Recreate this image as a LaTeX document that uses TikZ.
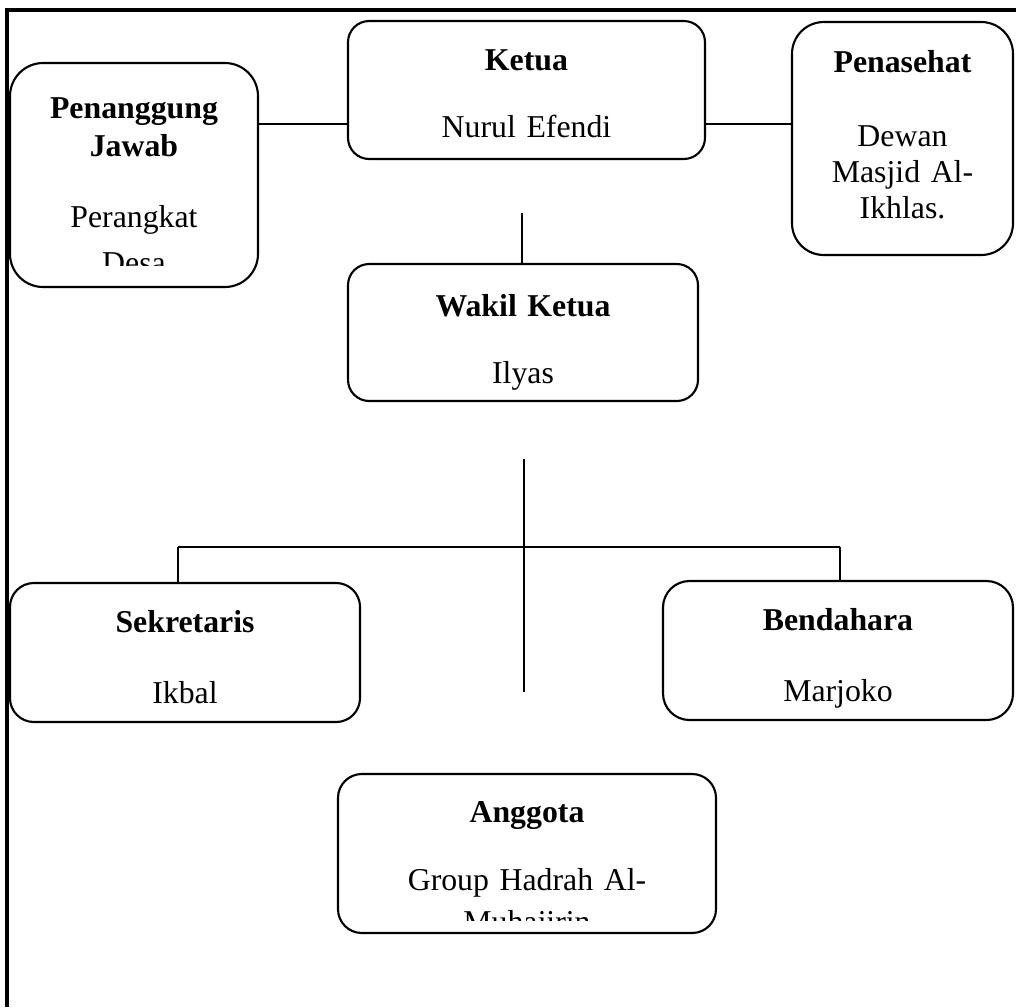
\documentclass[tikz,border=0pt]{standalone}
\usepackage{fontspec}
\setmainfont{Liberation Serif}
\newcommand{\px}{0.3774pt}
\tikzset{
  kotak/.style = {draw, line width=0.8pt, inner sep=0pt, outer sep=0pt, rounded corners=8pt},
  jabatan/.style = {anchor=base, text width=8cm, align=center, font=\fontsize{12}{14.4}\selectfont\bfseries},
  nama/.style = {anchor=base, text width=8cm, align=center, font=\fontsize{12}{14.4}\selectfont},
  garis/.style = {line width=0.8pt},
  bingkai/.style = {line width=1.2pt}
}
\begin{document}
\begin{tikzpicture}[x=\px, y=-\px]
		\useasboundingbox (0,0) rectangle (1016,1007);
		%Bingkai
		\draw[bingkai] (1016,10) -- (7,10) -- (7,1007);
		%Kotak
		\node[kotak, minimum width=357*\px, minimum height=138*\px] (ketua) at (526.5,90) {};
		\node[kotak, rounded corners=12.5pt, minimum width=248*\px, minimum height=224*\px] (pj) at (134,175) {};
		\node[kotak, rounded corners=12pt, minimum width=221*\px, minimum height=233*\px] (penasehat) at (902.5,138.5) {};
		\node[kotak, minimum width=350*\px, minimum height=137*\px] (wakil) at (523,332.5) {};
		\node[kotak, rounded corners=9pt, minimum width=350*\px, minimum height=139*\px] (sekretaris) at (185,652.5) {};
		\node[kotak, rounded corners=10pt, minimum width=350*\px, minimum height=139*\px] (bendahara) at (838,650.5) {};
		\node[kotak, rounded corners=9pt, minimum width=378*\px, minimum height=159*\px] (anggota) at (527,853.5) {};
		%Teks
		\node[jabatan] (ketua-j) at (526.5,70) {Ketua};
		\node[nama] (ketua-n) at (526.5,137) {Nurul Efendi};
		\node[jabatan] (pj-j) at (134,118) {Penanggung\\Jawab};
		\begin{scope}
			\clip (10,63) rectangle (258,265);
			\node[nama] (pj-n) at (134,227) {Perangkat\\[3pt]Desa};
		\end{scope}
		\node[jabatan] (penasehat-j) at (902.5,72) {Penasehat};
		\node[nama] (penasehat-n) at (902.5,146) {Dewan\\[-0.8pt]Masjid Al-\\[-0.8pt]Ikhlas.};
		\node[jabatan] (wakil-j) at (523,316) {Wakil Ketua};
		\node[nama] (wakil-n) at (523,383) {Ilyas};
		\node[jabatan] (sekretaris-j) at (185,632) {Sekretaris};
		\node[nama] (sekretaris-n) at (185,703) {Ikbal};
		\node[jabatan] (bendahara-j) at (838,630) {Bendahara};
		\node[nama] (bendahara-n) at (838,701) {Marjoko};
		\node[jabatan] (anggota-j) at (527,822) {Anggota};
		\begin{scope}
			\clip (338,774) rectangle (716,920);
			\node[nama] (anggota-n) at (527,890) {Group Hadrah Al-\\[1.5pt]Muhajirin};
		\end{scope}
		%Garis
		\draw[garis] ([yshift=-34*\px]ketua.west) -- ([yshift=-34*\px]ketua.west -| pj.east);	% PJ
		\draw[garis] ([yshift=-34*\px]ketua.east) -- ([yshift=-34*\px]ketua.east -| penasehat.west);	% Penasehat
		\coordinate (k1) at (522,213);
		\draw[garis] (k1) -- (k1 |- wakil.north);	% Wakil
		\coordinate (w1) at (524,459);
		\coordinate (w2) at (524,692);
		\draw[garis] (w1) -- (w2);
		\coordinate (cabangL) at (178,547);
		\coordinate (cabangR) at (840,547);
		\draw[garis] (cabangL) -- (cabangR);
		\draw[garis] (cabangL) -- (cabangL |- sekretaris.north);	% Sekretaris
		\draw[garis] (cabangR) -- (cabangR |- bendahara.north);	% Bendahara
\end{tikzpicture}
\end{document}
